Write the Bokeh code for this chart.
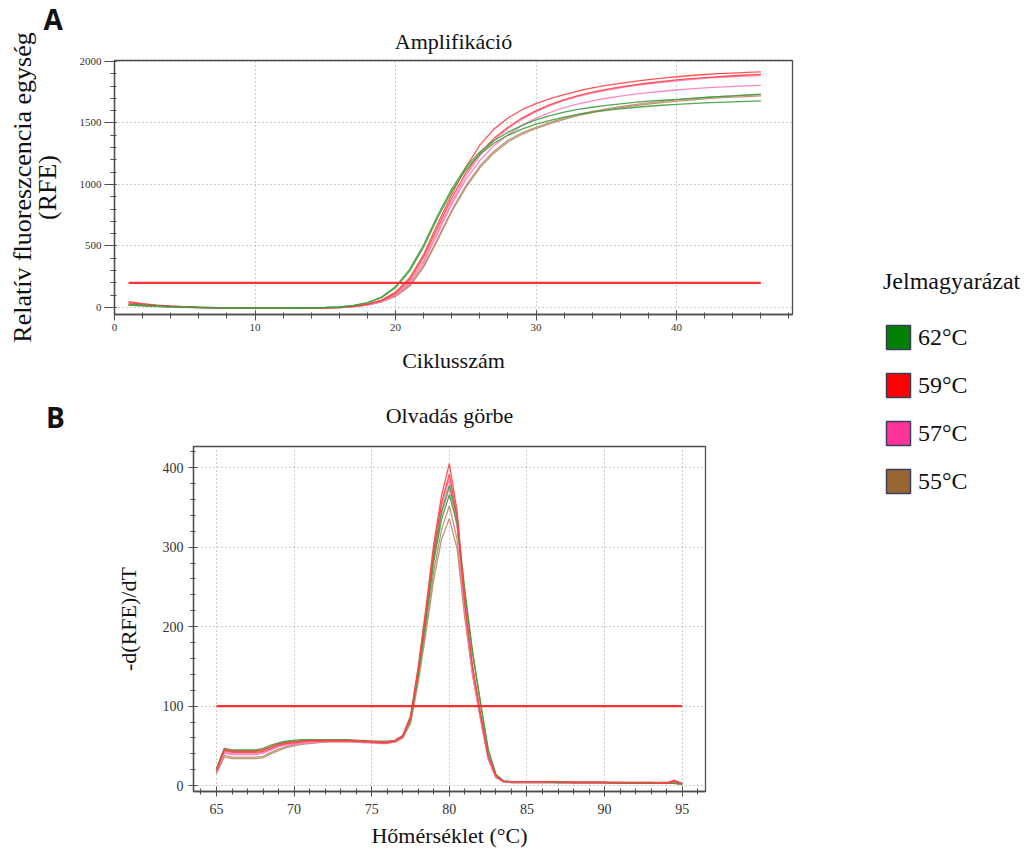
from bokeh.plotting import figure
from bokeh.models import (Range1d, LinearAxis, SingleIntervalTicker, FixedTicker,
                          Legend, LegendItem, Spacer, Title)
from bokeh.layouts import row, column
from bokeh.embed import file_html
from bokeh.resources import INLINE
from bokeh.core.properties import value

# ---------------- data ----------------
# Panel A: amplification curves (RFU vs cycle)
cycles = list(range(1, 47))
amp_green_1 = [26, 19, 12, 7, 3, 1, -1, -3, -4, -5, -5, -5, -4, -3, 0, 5,
               17, 40, 85, 170, 310, 510, 750, 965, 1140, 1265,
               1355, 1425, 1480, 1525, 1560, 1588, 1610, 1628, 1643, 1656,
               1667, 1677, 1685, 1692, 1700, 1707, 1714, 1720, 1728, 1735]
amp_green_2 = [22, 16, 10, 6, 3, 0, -2, -3, -4, -5, -5, -5, -4, -3, 0, 4,
               15, 37, 80, 160, 295, 490, 730, 945, 1120, 1245,
               1335, 1400, 1450, 1490, 1522, 1548, 1570, 1588, 1603, 1615,
               1626, 1636, 1644, 1651, 1657, 1663, 1668, 1672, 1676, 1680]
amp_red_1 = [48, 32, 20, 12, 6, 2, 0, -3, -5, -6, -7, -7, -7, -6, -4, 0,
             10, 28, 60, 125, 240, 430, 680, 920, 1140, 1320,
             1450, 1540, 1608, 1658, 1698, 1730, 1760, 1785, 1805, 1822,
             1838, 1852, 1865, 1876, 1886, 1894, 1901, 1906, 1911, 1915]
amp_red_2 = [40, 27, 17, 10, 5, 1, -1, -3, -5, -6, -6, -7, -6, -5, -3, 1,
             9, 25, 55, 115, 225, 410, 650, 890, 1095, 1255,
             1375, 1465, 1540, 1600, 1650, 1690, 1723, 1750, 1773, 1793,
             1810, 1825, 1838, 1850, 1860, 1869, 1877, 1884, 1890, 1895]
amp_pink_1 = [38, 26, 16, 9, 4, 1, -1, -3, -4, -5, -6, -6, -6, -5, -3, 0,
              8, 23, 50, 105, 205, 380, 620, 860, 1070, 1235,
              1360, 1455, 1530, 1592, 1642, 1683, 1716, 1743, 1766, 1786,
              1803, 1818, 1831, 1843, 1853, 1862, 1870, 1876, 1881, 1885]
amp_pink_2 = [30, 21, 13, 7, 3, 0, -2, -3, -4, -5, -6, -6, -6, -5, -3, 0,
              7, 21, 47, 100, 195, 365, 600, 840, 1040, 1195,
              1315, 1405, 1480, 1540, 1586, 1624, 1655, 1680, 1701, 1719,
              1734, 1747, 1758, 1768, 1777, 1785, 1792, 1797, 1801, 1805]
amp_brown_1 = [20, 15, 10, 6, 2, 0, -2, -3, -4, -5, -5, -5, -5, -4, -2, 1,
               8, 22, 48, 95, 180, 340, 560, 790, 990, 1150,
               1270, 1360, 1420, 1465, 1505, 1540, 1570, 1595, 1615, 1633,
               1649, 1663, 1676, 1688, 1698, 1707, 1714, 1720, 1725, 1730]
amp_brown_2 = [18, 13, 9, 5, 2, 0, -2, -3, -4, -5, -5, -5, -5, -4, -2, 1,
               7, 20, 45, 90, 172, 328, 548, 778, 975, 1135,
               1255, 1345, 1408, 1455, 1495, 1530, 1560, 1585, 1606, 1624,
               1640, 1654, 1666, 1677, 1687, 1696, 1704, 1710, 1715, 1720]
threshold_a = 200

# Panel B: melt curves -d(RFU)/dT vs temperature
temps = [65, 65.5, 66, 66.5, 67, 67.5, 68, 68.5, 69, 69.5,
         70, 70.5, 71, 71.5, 72, 72.5, 73, 73.5, 74, 74.5,
         75, 75.5, 76, 76.5, 77, 77.5, 78, 78.5, 79, 79.5,
         80, 80.5, 81, 81.5, 82, 82.5, 83, 83.5, 84,
         85, 86, 87, 88, 89, 90, 91, 92, 93, 94, 94.5, 95]
melt_green_1 = [22, 47, 45, 45, 45, 45, 47, 51, 54, 56,
                57, 58, 58, 58, 58, 58, 58, 58, 57, 57,
                56, 56, 56, 57, 63, 85, 145, 215, 290, 345,
                378, 338, 245, 168, 106, 46, 14, 6, 5,
                5, 5, 4, 4, 4, 4, 3, 3, 3, 3, 3, 2]
melt_green_2 = [20, 45, 43, 43, 43, 43, 45, 49, 53, 55,
                56, 57, 57, 57, 57, 57, 57, 57, 56, 56,
                55, 55, 55, 56, 62, 83, 140, 208, 282, 335,
                366, 330, 242, 166, 104, 45, 14, 6, 5,
                5, 5, 4, 4, 4, 4, 3, 3, 3, 3, 3, 2]
melt_red_1 = [20, 46, 44, 44, 44, 44, 45, 49, 52, 54,
              55, 56, 57, 57, 57, 57, 57, 57, 57, 56,
              56, 55, 55, 57, 63, 88, 150, 225, 305, 365,
              405, 345, 232, 150, 92, 38, 12, 5, 5,
              5, 5, 5, 4, 4, 4, 4, 4, 4, 4, 7, 2]
melt_red_2 = [19, 44, 42, 42, 42, 42, 43, 47, 51, 53,
              54, 55, 56, 56, 56, 56, 56, 56, 56, 55,
              55, 54, 54, 56, 62, 86, 147, 220, 298, 356,
              392, 338, 228, 148, 90, 37, 12, 5, 5,
              5, 5, 5, 4, 4, 4, 4, 4, 4, 3, 5, 3]
melt_pink_1 = [18, 42, 40, 40, 40, 40, 42, 46, 50, 52,
               53, 54, 55, 55, 56, 56, 56, 56, 55, 55,
               54, 54, 54, 55, 61, 84, 145, 218, 295, 352,
               386, 330, 222, 142, 86, 34, 10, 5, 4,
               4, 4, 4, 4, 4, 4, 4, 3, 3, 3, 6, 3]
melt_pink_2 = [18, 41, 39, 39, 39, 39, 41, 45, 49, 51,
               52, 53, 54, 55, 55, 55, 55, 55, 55, 54,
               54, 53, 53, 55, 61, 83, 142, 212, 287, 342,
               374, 325, 220, 140, 85, 33, 10, 5, 4,
               4, 4, 4, 4, 4, 4, 3, 3, 3, 3, 4, 3]
melt_brown_1 = [16, 38, 36, 36, 36, 36, 37, 42, 46, 49,
                51, 53, 54, 55, 55, 56, 56, 56, 55, 55,
                55, 54, 54, 55, 60, 80, 135, 200, 270, 322,
                352, 310, 215, 140, 86, 36, 11, 5, 4,
                4, 4, 4, 4, 4, 4, 3, 3, 3, 3, 3, 2]
melt_brown_2 = [15, 36, 34, 34, 34, 34, 35, 40, 44, 48,
                50, 52, 53, 54, 55, 55, 55, 55, 55, 55,
                54, 54, 54, 55, 60, 78, 130, 193, 260, 310,
                336, 298, 210, 138, 85, 36, 11, 5, 4,
                4, 4, 4, 4, 4, 4, 3, 3, 3, 3, 3, 2]
threshold_b = 100

legend_labels = ["62°C", "59°C", "57°C", "55°C"]
legend_colors = ["#008000", "#ff0000", "#ff3399", "#996633"]
line_colors = {"green": "#3f9f3f", "red": "#ff4343", "pink": "#ff7cbc", "brown": "#b88d6a"}

# ---------------- styling helpers ----------------
SERIF = "Liberation Serif"
AX = "#4d4d4d"


def style(p, xint, yint, tick_size, xt, yt):
    # xt/yt: (major_in, major_out, minor_in, minor_out, standoff)
    p.outline_line_color = AX
    p.outline_line_width = 1.3
    xtick = SingleIntervalTicker(interval=xint, num_minor_ticks=5)
    ytick = SingleIntervalTicker(interval=yint, num_minor_ticks=5)
    bx, ly = p.below[0], p.left[0]
    for ax, tk, t in ((bx, xtick, xt), (ly, ytick, yt)):
        ax.ticker = tk
        ax.axis_line_color = AX
        ax.axis_line_width = 1.3
        ax.major_tick_line_color = AX
        ax.minor_tick_line_color = AX
        ax.major_tick_in, ax.major_tick_out, ax.minor_tick_in, ax.minor_tick_out, ax.major_label_standoff = t
        ax.major_label_text_font = SERIF
        ax.major_label_text_font_size = tick_size
        ax.major_label_text_color = "#333333"
        ax.axis_label_text_font = SERIF
        ax.axis_label_text_font_style = "normal"
        ax.axis_label_text_color = "#111111"
    p.xgrid.ticker = xtick
    p.ygrid.ticker = ytick
    p.grid.grid_line_color = "#9a9a9a"
    p.grid.grid_line_dash = "1 3"
    p.grid.grid_line_width = 1
    return bx, ly


def serif_title(p, text, standoff):
    p.title.text = text
    p.title.align = "center"
    p.title.text_font = SERIF
    p.title.text_font_style = "normal"
    p.title.text_font_size = "22px"
    p.title.text_color = "#111111"
    p.title.standoff = standoff


HA, HB = 378, 472

# ---------------- Panel A ----------------
pA = figure(width=856, height=HA, x_range=Range1d(0, 48.25), y_range=Range1d(-57, 2008),
            title=None, output_backend="svg", toolbar_location=None,
            min_border_left=109, min_border_right=68, min_border_top=60, min_border_bottom=64)
axA_x, axA_y = style(pA, 10, 500, "11px", (4, 6, 2, 4, 3), (2, 10, 2, 4, 3))
# chart title (next to the frame) and, stacked above it, the panel letter
pA.add_layout(Title(text="Amplifikáció", align="center", text_font=SERIF,
                    text_font_style="normal", text_font_size="22px",
                    text_color="#111111", standoff=13), "above")
pA.add_layout(Title(text="A", align="left", offset=-71, text_font="Open Sans",
                    text_font_style="bold", text_font_size="28px",
                    text_color="#111111", standoff=-34), "above")
axA_x.axis_label = "Ciklusszám"
axA_x.axis_label_text_font_size = "22px"
axA_x.axis_label_standoff = 14
axA_y.axis_label = "(RFE)"
axA_y.axis_label_text_font_size = "26px"
axA_y.axis_label_standoff = 15
outerA = LinearAxis(ticker=FixedTicker(ticks=[]), axis_line_color=None,
                    axis_label="Relatív fluoreszcencia egység", axis_label_text_font=SERIF,
                    axis_label_text_font_style="normal", axis_label_text_font_size="26px",
                    axis_label_text_color="#111111", axis_label_standoff=-7,
                    major_tick_in=0, major_tick_out=0, minor_tick_in=0, minor_tick_out=0)
pA.add_layout(outerA, "left")

amp_series = [(amp_brown_1, "brown"), (amp_brown_2, "brown"),
              (amp_pink_1, "pink"), (amp_pink_2, "pink"),
              (amp_red_1, "red"), (amp_red_2, "red"),
              (amp_green_1, "green"), (amp_green_2, "green")]
for ys, c in amp_series:
    pA.line(cycles, ys, line_color=line_colors[c], line_width=1.3, line_alpha=0.9)
pA.line([cycles[0], cycles[-1]], [threshold_a, threshold_a], line_color="#ff3030", line_width=2.2)

# ---------------- Panel B ----------------
pB = figure(width=689, height=HB, x_range=Range1d(63.52, 96.5), y_range=Range1d(-7.3, 426.6),
            title="Olvadás görbe", output_backend="svg", toolbar_location=None,
            min_border_left=109, min_border_right=68, min_border_top=68, min_border_bottom=59)
axB_x, axB_y = style(pB, 5, 100, "14px", (5, 5, 3, 3, 7), (4, 5, 2, 3, 5))
serif_title(pB, "Olvadás görbe", 38)
axB_x.axis_label = "Hőmérséklet (°C)"
axB_x.axis_label_text_font_size = "22px"
axB_x.axis_label_standoff = 6
axB_y.axis_label = "-d(RFE)/dT"
axB_y.axis_label_text_font_size = "22px"
axB_y.axis_label_standoff = 19

melt_series = [(melt_brown_1, "brown"), (melt_brown_2, "brown"),
               (melt_pink_1, "pink"), (melt_pink_2, "pink"),
               (melt_green_1, "green"), (melt_green_2, "green"),
               (melt_red_1, "red"), (melt_red_2, "red")]
for ys, c in melt_series:
    pB.line(temps, ys, line_color=line_colors[c], line_width=1.3, line_alpha=0.9)
pB.line([temps[0], temps[-1]], [threshold_b, threshold_b], line_color="#ff3030", line_width=2.2)

# strip left of B carrying the panel letter (one-entry legend in its side panel)
sB = figure(width=84, height=HB, x_range=Range1d(0, 1), y_range=Range1d(0, 1),
            x_axis_location=None, y_axis_location=None, output_backend="svg",
            toolbar_location=None, min_border=0, outline_line_color=None)
sB.grid.grid_line_color = None
dummyB = sB.quad(left=[], right=[], top=[], bottom=[], fill_alpha=0, line_alpha=0)
sB.add_layout(Legend(items=[LegendItem(label=value("B"), renderers=[dummyB])], location=(46, 355),
                     glyph_width=0, glyph_height=20, label_height=20, label_standoff=0,
                     padding=0, margin=0, spacing=0,
                     label_text_font="Open Sans", label_text_font_style="bold",
                     label_text_font_size="28px", label_text_color="#111111",
                     border_line_color=None, background_fill_alpha=0), "left")

# ---------------- Legend panel ----------------
pL = figure(width=172, height=HA + HB, x_range=Range1d(0, 1), y_range=Range1d(0, 1),
            x_axis_location=None, y_axis_location=None, output_backend="svg",
            toolbar_location=None, min_border=0, outline_line_color=None)
pL.grid.grid_line_color = None
items = []
for lab, col in zip(legend_labels, legend_colors):
    # swatch renderer kept outside the visible range; only its legend glyph shows
    r = pL.quad(left=[2], right=[3], top=[3], bottom=[2], fill_color=col,
                line_color="#3b3f5c", line_width=1.5)
    items.append(LegendItem(label=value(lab), renderers=[r]))
leg = Legend(items=items, title="Jelmagyarázat", location=(23, 354),
             glyph_width=30, glyph_height=30, label_height=30, spacing=18,
             padding=0, margin=0, label_standoff=5,
             label_text_font=SERIF, label_text_font_size="24px", label_text_color="#111111",
             title_text_font=SERIF, title_text_font_size="24px", title_text_font_style="normal",
             title_text_color="#111111", title_standoff=27,
             border_line_color=None, background_fill_alpha=0)
pL.add_layout(leg, "center")

layout = row(column(row(Spacer(width=4, height=HA), pA), row(sB, pB)), pL)
open("out.html", "w").write(file_html(layout, INLINE))
